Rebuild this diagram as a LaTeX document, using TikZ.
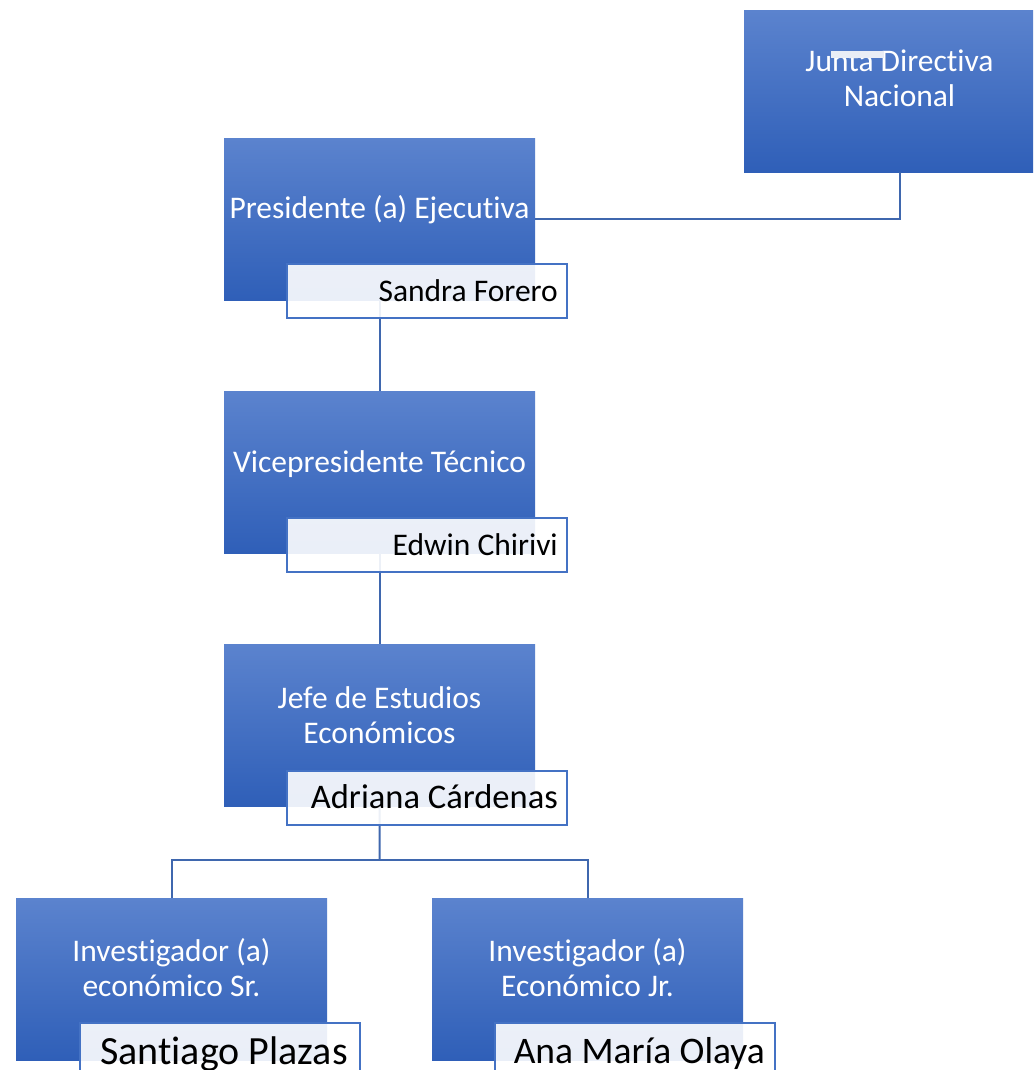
\documentclass[tikz,border=0pt]{standalone}
\usepackage{fontspec}
\setmainfont{Carlito}[Ligatures=NoCommon]
\definecolor{boxtop}{HTML}{5B83CE}
\definecolor{boxbot}{HTML}{2F5FB8}
\definecolor{lineblue}{HTML}{3F67AE}
\definecolor{nameline}{HTML}{4472C4}
\definecolor{artifact}{HTML}{E9EDF6}
\begin{document}
\begin{tikzpicture}[x=1pt,y=-1pt,
  mainbox/.style={rectangle, minimum width=311pt, minimum height=162pt, inner sep=0pt, anchor=north west, top color=boxtop, bottom color=boxbot, draw=none},
  namebox/.style={rectangle, minimum width=280pt, minimum height=54pt, inner sep=0pt, anchor=north west, draw=nameline, line width=1.5pt, fill=white, fill opacity=0.9},
  roletext/.style={anchor=base, text=white, font=\fontsize{31.5}{35}\selectfont, inner sep=0pt},
  nametext/.style={anchor=base east, text=black, font=\fontsize{31.5}{35}\selectfont, inner sep=0pt},
  link/.style={draw=lineblue, line width=2pt}]
\useasboundingbox (0,0) rectangle (1033,1070);
\clip (0,0) rectangle (1033,1070);
\fill[white] (0,0) rectangle (1033,1070);

% main boxes
\node[mainbox] (junta) at (744,10) {};
\node[mainbox] (pres) at (224,138) {};
\node[mainbox] (vice) at (224,391) {};
\node[mainbox] (jefe) at (224,644) {};
\node[mainbox] (invsr) at (16,898) {};
\node[mainbox] (invjr) at (432,898) {};

% role texts
\node[roletext] (juntaT1) at (899.5,72) {Junta Directiva};
\node[roletext] (juntaT2) at (899.5,107) {Nacional};
\node[roletext] (presT) at (379.5,218) {Presidente (a) Ejecutiva};
\node[roletext] (viceT) at (379.5,472) {Vicepresidente Técnico};
\node[roletext] (jefeT1) at (379.5,708) {Jefe de Estudios};
\node[roletext] (jefeT2) at (379.5,743) {Económicos};
\node[roletext] (invsrT1) at (171.5,961) {Investigador (a)};
\node[roletext] (invsrT2) at (171.5,996) {económico Sr.};
\node[roletext] (invjrT1) at (587.5,961) {Investigador (a)};
\node[roletext] (invjrT2) at (587.5,996) {Económico Jr.};

\fill[artifact] (831,51) rectangle (884,58);

% connectors (under the name boxes)
\draw[link] (junta.south) |- (pres.east);
\draw[link] (pres.south) -- (vice.north);
\draw[link] (vice.south) -- (jefe.north);
\coordinate (split) at (379.5,860);
\draw[link] (jefe.south) -- (split);
\draw[link] (split) -| (invsr.north);
\draw[link] (split) -| (invjr.north);

% name boxes
\node[namebox] (presN) at (286,263) {};
\node[namebox] (viceN) at (286,517) {};
\node[namebox] (jefeN) at (286,770) {};
\node[namebox] (invsrN) at (79,1022) {};
\node[namebox] (invjrN) at (494,1022) {};

\node[nametext] (presNT) at (558,301) {Sandra Forero};
\node[nametext] (viceNT) at (558,555) {Edwin Chirivi};
\node[nametext, font=\fontsize{34.5}{38}\selectfont] (jefeNT) at (558,808) {Adriana Cárdenas};
\node[nametext, font=\fontsize{40}{44}\selectfont] (invsrNT) at (348,1064) {Santiago Plazas};
\node[nametext, font=\fontsize{37.5}{42}\selectfont] (invjrNT) at (765,1063) {Ana María Olaya};
\end{tikzpicture}
\end{document}
